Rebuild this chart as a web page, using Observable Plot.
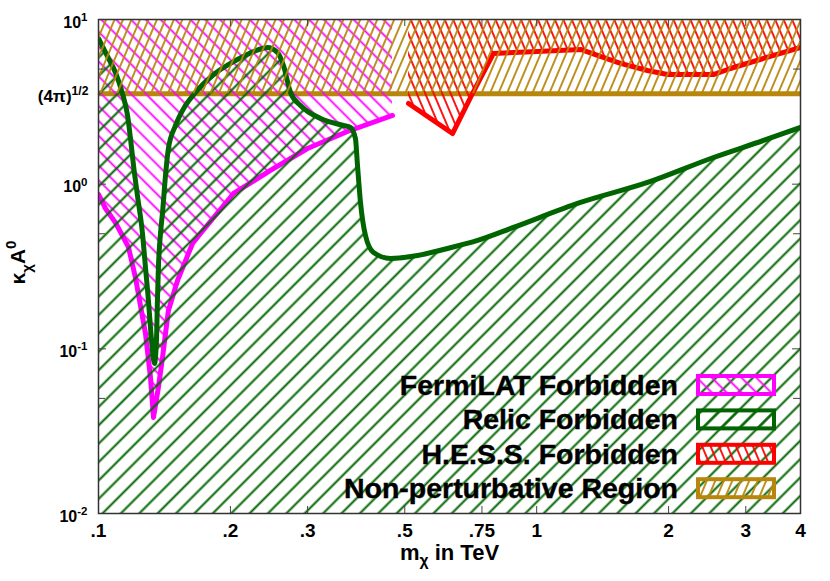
<!DOCTYPE html>
<html><head><meta charset="utf-8">
<script src="https://cdn.jsdelivr.net/npm/d3@7"></script>
<script src="https://cdn.jsdelivr.net/npm/@observablehq/plot@0.6"></script>
<style>body{margin:0;background:#fff;} svg{display:block}</style>
</head><body><div id="chart"></div>
<script>
// ---- data ----
const relicX = [0.1000,0.1054,0.1093,0.1134,0.1165,0.1183,0.1202,0.1227,0.1260,0.1280,0.1300,0.1314,0.1328,0.1342,0.1356,0.1363,0.1370,0.1385,0.1400,0.1422,0.1444,0.1499,0.1579,0.1665,0.1820,0.2055,0.2367,0.2430,0.2561,0.2643,0.2743,0.2891,0.3211,0.3623,0.3759,0.3858,0.3900,0.3962,0.4067,0.4242,0.4639,0.5346,0.6257,0.7330,0.8851,1.259,1.790,2.532,3.293,4.0];
const relicY = [7.667,5.798,4.767,3.553,2.613,1.894,1.299,0.854,0.502,0.312,0.1968,0.1349,0.0978,0.0815,0.1125,0.1968,0.312,0.502,0.673,1.129,1.647,2.272,3.004,3.604,4.571,5.638,6.666,6.761,6.304,5.257,3.604,3.004,2.506,2.272,2.210,1.894,1.299,0.774,0.488,0.385,0.354,0.369,0.407,0.455,0.546,0.774,1.024,1.452,1.842,2.210];

const fermiX = [0.1000,0.1037,0.1093,0.1171,0.1214,0.1280,0.1314,0.1335,0.1370,0.1400,0.1444,0.1515,0.1639,0.1709,0.2033,0.2468,0.2999,0.3700,0.4688];
const fermiY = [0.866,0.712,0.585,0.413,0.2714,0.1240,0.0671,0.0383,0.0583,0.0887,0.1711,0.2603,0.4365,0.502,0.878,1.211,1.647,2.089,2.613];

const hessX = [0.510,0.6425,0.7137,0.797,1.002,1.259,1.377,1.553,1.790,1.989,2.532,2.768,3.293,4.0];
const hessY = [3.09,2.03,3.553,6.22,6.39,6.58,6.05,5.41,4.90,4.63,4.63,5.04,5.80,6.76];

const perturbLimit = 3.545;           // (4π)^1/2
const perturbX = [0.1, 4];
const perturbLabel = "(4π)^{1/2}";

const xTickVals = [0.1,0.2,0.3,0.5,0.75,1,2,3,4];
const xTickLabels = [".1",".2",".3",".5",".75","1","2","3","4"];
const yTickVals = [10,1,0.1,0.01];
const yTickLabels = ["10^{1}","10^{0}","10^{-1}","10^{-2}"];
const yMinorVals = [5,0.5,0.05];

const xTitle = "m_{χ} in TeV";
const yTitle = "κ_{χ}A^{0}";

const legendLabels = ["FermiLAT Forbidden","Relic Forbidden","H.E.S.S. Forbidden","Non-perturbative Region"];
const legendColors = ["#ff00ff","#006400","#ff0000","#b8860b"];

// ---- tables for the library ----
const relic = relicX.map((x,i)=>({x, y: relicY[i]}));
const fermi = fermiX.map((x,i)=>({x, y: fermiY[i]}));
const hess = hessX.map((x,i)=>({x, y: hessY[i]}));
const pertBand = perturbX.map(x=>({x}));

const W=830, H=581, mL=98, mR=30, mT=19, mB=68;
const iw = W-mL-mR, ih = H-mT-mB;

const pats = [
  {id:"patFermi", color:legendColors[0], gap:10.5, angle:-45, w:1.8},
  {id:"patRelic", color:legendColors[1], gap:13, angle:45, w:2},
  {id:"patHess",  color:legendColors[2], gap:7.8, angle:-23, w:1.8},
  {id:"patPert",  color:legendColors[3], gap:7.8, angle:23, w:1.8}
];

const font = "Liberation Sans, Arial, Helvetica, sans-serif";
const tickStroke = "#444";

const svg = Plot.plot({
  width: W, height: H,
  marginLeft: mL, marginRight: mR, marginTop: mT, marginBottom: mB,
  x: {type:"log", domain:[0.1,4], axis:null},
  y: {type:"log", domain:[0.01,10], axis:null},
  style: {fontFamily: font, background:"#fff", overflow:"visible"},
  marks: [
    Plot.ruleY([perturbLimit], {stroke: legendColors[3], strokeWidth: 5}),
    Plot.areaY(fermi, {x:"x", y1:"y", y2:()=>10, fill:"url(#patFermi)", clip:true}),
    Plot.line(fermi, {x:"x", y:"y", stroke: legendColors[0], strokeWidth:5, clip:true}),
    Plot.areaY(relic, {x:"x", y1:()=>0.01, y2:"y", curve:"monotone-x", fill:"url(#patRelic)", clip:true}),
    Plot.line(relic, {x:"x", y:"y", curve:"monotone-x", stroke: legendColors[1], strokeWidth:5, clip:true}),
    Plot.areaY(hess, {x:"x", y1:"y", y2:()=>10, fill:"url(#patHess)", clip:true}),
    Plot.line(hess, {x:"x", y:"y", stroke: legendColors[2], strokeWidth:5, clip:true}),
    Plot.areaY(pertBand, {x:"x", y1:()=>perturbLimit, y2:()=>10, fill:"url(#patPert)", clip:true}),
    // inward ticks
    Plot.tickX(xTickVals, {x:d=>d, insetTop: ih-7, stroke: tickStroke}),
    Plot.tickX(xTickVals, {x:d=>d, insetBottom: ih-7, stroke: tickStroke}),
    Plot.tickY(yTickVals, {y:d=>d, insetRight: iw-8, stroke: tickStroke}),
    Plot.tickY(yTickVals, {y:d=>d, insetLeft: iw-8, stroke: tickStroke}),
    Plot.tickY(yMinorVals, {y:d=>d, insetRight: iw-7, stroke: tickStroke}),
    Plot.tickY(yMinorVals, {y:d=>d, insetLeft: iw-7, stroke: tickStroke}),
    Plot.frame({stroke:"#333", strokeWidth:1.5}),
    // tick labels
    Plot.text(xTickVals, {x:d=>d, y:()=>0.01, text:(d,i)=>xTickLabels[i], dy:17, fontSize:19, fontWeight:"bold", fill:"#000"}),
    Plot.text(yTickVals, {x:()=>0.1, y:d=>d, text:(d,i)=>yTickLabels[i], textAnchor:"end", dx:-11, dy:3, fontSize:16, fontWeight:"bold", fill:"#000"}),
    Plot.text([perturbLimit], {x:()=>0.1, y:d=>d, text:()=>perturbLabel, textAnchor:"end", dx:-10, dy:3, fontSize:17, fontWeight:"bold", fill:"#000"}),
    // axis titles
    Plot.text([xTitle], {frameAnchor:"bottom", lineAnchor:"middle", textAnchor:"middle", text:d=>d, dy:39, fontSize:22, fontWeight:"bold", fill:"#000"}),
    Plot.text([yTitle], {frameAnchor:"left", lineAnchor:"middle", textAnchor:"middle", text:d=>d, rotate:-90, dx:-80, dy:-4, fontSize:21, fontWeight:"bold", fill:"#000"})
  ]
});

document.getElementById("chart").appendChild(svg);

// ---- hatch patterns ----
const ns = "http://www.w3.org/2000/svg";
const defs = document.createElementNS(ns, "defs");
pats.forEach(p => {
  const pat = document.createElementNS(ns, "pattern");
  pat.setAttribute("id", p.id);
  pat.setAttribute("patternUnits", "userSpaceOnUse");
  pat.setAttribute("width", p.gap);
  pat.setAttribute("height", p.gap);
  pat.setAttribute("patternTransform", `rotate(${p.angle})`);
  const ln = document.createElementNS(ns, "line");
  ln.setAttribute("x1", p.gap/2); ln.setAttribute("x2", p.gap/2);
  ln.setAttribute("y1", -1); ln.setAttribute("y2", p.gap+1);
  ln.setAttribute("stroke", p.color); ln.setAttribute("stroke-width", p.w);
  pat.appendChild(ln);
  defs.appendChild(pat);
});
svg.insertBefore(defs, svg.firstChild);

// ---- rich text (sub/superscripts) ----
function rich(el) {
  const s = el.textContent;
  if (!/[_^]\{/.test(s)) return;
  const fs = parseFloat(getComputedStyle(el).fontSize) || 16;
  const re = /([_^])\{([^}]*)\}|([^_^]+)/g;
  let m, off = 0, first = true;
  const spans = [];
  while ((m = re.exec(s))) {
    const t = document.createElementNS(ns, "tspan");
    let target = 0, small = false, txt;
    if (m[3] !== undefined) { txt = m[3]; }
    else { txt = m[2]; small = true; target = m[1] === "^" ? -0.42*fs : 0.3*fs; }
    const shift = target - off; off = target;
    if (!(first && shift === 0)) t.setAttribute("dy", shift.toFixed(2));
    if (small) t.setAttribute("font-size", (0.72*fs).toFixed(1));
    t.textContent = txt;
    spans.push(t);
    first = false;
  }
  el.textContent = "";
  spans.forEach(t => el.appendChild(t));
}
svg.querySelectorAll("text").forEach(rich);

// ---- legend ----
const g = d3.select(svg).append("g").attr("font-family", font);
const legendTop = 385, legendStep = 34.4;
legendLabels.forEach((lab, i) => {
  const cy = legendTop + i*legendStep;
  g.append("text").attr("x", 678).attr("y", cy).attr("dy", "0.35em")
    .attr("text-anchor", "end").attr("font-size", 28.5).attr("font-weight", "bold")
    .attr("fill", "#000").attr("stroke", "#000").attr("stroke-width", 0.4).text(lab);
  g.append("rect").attr("x", 698).attr("y", cy-9).attr("width", 76).attr("height", 18)
    .attr("fill", `url(#${pats[i].id})`).attr("stroke", legendColors[i]).attr("stroke-width", 4);
});
</script>
</body></html>
